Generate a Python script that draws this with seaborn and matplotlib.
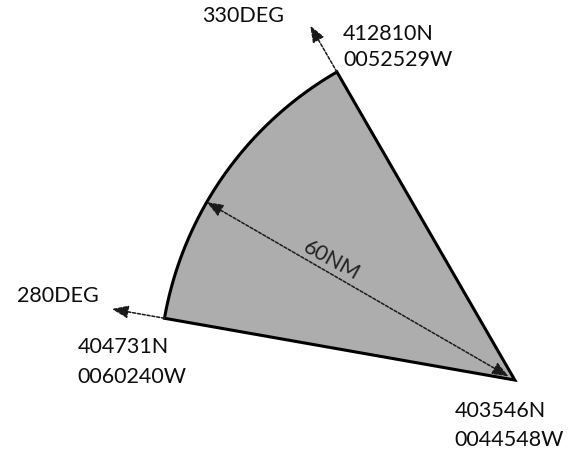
import numpy as np
import seaborn as sns
import matplotlib.pyplot as plt

# sector data
radius_nm = 60
bearings = [280, 330]            # start / end bearing, degrees true
bearing_labels = ["280DEG", "330DEG"]
centre_lat = "403546N"
centre_lon = "0044548W"
corner_lats = ["404731N", "412810N"]
corner_lons = ["0060240W", "0052529W"]
radius_label = "60NM"
radius_bearing = 300

sns.set_style("white")
plt.rcParams['font.family'] = ['Lato', 'DejaVu Sans']


def polar(brg, r):
    a = np.radians(brg)
    return r * np.sin(a), r * np.cos(a)


fig = plt.figure(figsize=(5.71, 4.5), dpi=100)
ax = fig.add_axes([0, 0, 1, 1])
ax.set_xlim(-86.8, 9.45)
ax.set_ylim(-11.8, 64.1)
ax.set_aspect('equal')
ax.axis('off')

# sector outline
arc = np.linspace(bearings[0], bearings[1], 80)
ax_, ay_ = polar(arc, radius_nm)
xs = np.concatenate([[0], ax_, [0]])
ys = np.concatenate([[0], ay_, [0]])
ax.fill(xs, ys, facecolor='#adadad', edgecolor='black', linewidth=2.2,
        joinstyle='miter')

dots = dict(arrowstyle='-|>,head_length=0.9,head_width=0.35',
            linestyle=(0, (2, 1.2)), color='#1a1a1a',
            lw=1.1, mutation_scale=11, shrinkA=0, shrinkB=0)
txt = dict(fontsize=15.5, color='#0d0d0d', va='center')

# bearing arrows past the corners
for brg, lab in zip(bearings, bearing_labels):
    p0 = polar(brg, radius_nm)
    p1 = polar(brg, radius_nm + 9)
    ax.annotate('', xy=p1, xytext=p0, arrowprops=dots)
    off = (-13, 13) if brg == 280 else (-26, 10)
    ax.annotate(lab, xy=p1, xytext=off, textcoords='offset pixels',
                ha='right', **txt)

# radius arrow
r0 = polar(radius_bearing, 1.2)
r1 = polar(radius_bearing, radius_nm)
dd = dict(dots, arrowstyle='<|-|>,head_length=0.9,head_width=0.35')
ax.annotate('', xy=r1, xytext=r0, arrowprops=dd)
mid = polar(radius_bearing, radius_nm * 0.61)
ax.text(mid[0], mid[1] + 0.4, radius_label, rotation=-29, ha='center',
        va='bottom', fontsize=15.5, color='#222222', rotation_mode='anchor')

# coordinate labels
ax.annotate(centre_lat, xy=(0, 0), xytext=(-60, -31), textcoords='offset pixels',
            ha='left', **txt)
ax.annotate(centre_lon, xy=(0, 0), xytext=(-60, -60), textcoords='offset pixels',
            ha='left', **txt)

c280 = polar(bearings[0], radius_nm)
ax.annotate(corner_lats[0], xy=c280, xytext=(-87, -29), textcoords='offset pixels',
            ha='left', **txt)
ax.annotate(corner_lons[0], xy=c280, xytext=(-87, -59), textcoords='offset pixels',
            ha='left', **txt)

c330 = polar(bearings[1], radius_nm)
ax.annotate(corner_lats[1], xy=c330, xytext=(6, 38), textcoords='offset pixels',
            ha='left', **txt)
ax.annotate(corner_lons[1], xy=c330, xytext=(6, 12), textcoords='offset pixels',
            ha='left', **txt)

fig.savefig('out.png', dpi=100, facecolor='white')
